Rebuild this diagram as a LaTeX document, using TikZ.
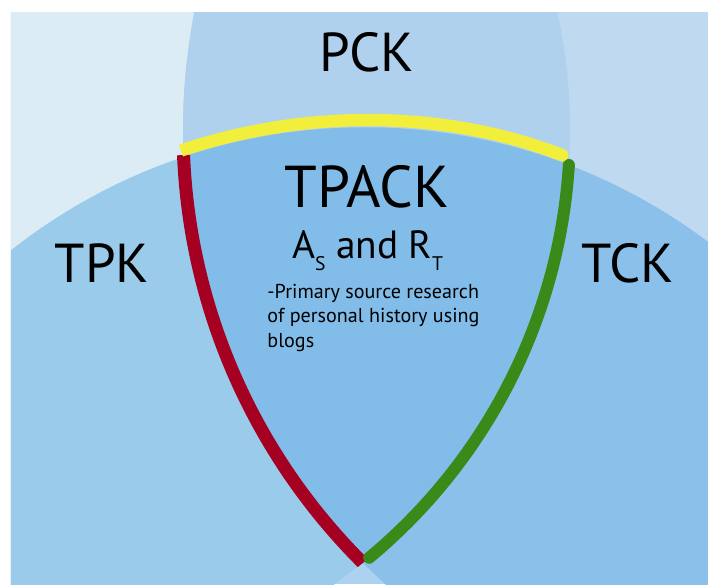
\documentclass[tikz,border=0pt]{standalone}
\usepackage{fontspec}
\setmainfont{PT Sans}
\usepackage{tikz}
\usetikzlibrary{calc,arrows.meta}

\definecolor{pOnly}{RGB}{220,236,245}
\definecolor{cOnly}{RGB}{191,217,240}
\definecolor{tOnly}{RGB}{172,210,240}
\definecolor{pckFill}{RGB}{175,209,238}
\definecolor{tpkFill}{RGB}{155,203,235}
\definecolor{tckFill}{RGB}{139,192,234}
\definecolor{tpackFill}{RGB}{130,188,232}
\definecolor{edgeRed}{RGB}{165,0,33}
\definecolor{edgeGreen}{RGB}{58,138,26}
\definecolor{edgeYellow}{RGB}{242,238,60}

\def\Pcircle{(0.35,11.35) circle (13.9)}
\def\Ccircle{(19.85,11.35) circle (15.275)}
\def\Tcircle{(9.125,-2.875) circle (14.2875)}
\def\ringarc[#1](#2)(#3:#4:#5){\draw[#1] ($(#2)+(#3:#5)$) arc (#3:#4:#5);}
\newcommand\fsz[2]{\fontsize{#1}{#2}\selectfont}

\tikzset{
  biglabel/.style={anchor=base, text=black, font=\fsz{39}{42}},
}

\begin{document}
\begin{tikzpicture}
			%%%%% START %%%%%
			\useasboundingbox (0,0) rectangle (17.7,14.6);
			
			% the three circles, cut to the frame
			\begin{scope}
				\clip (0.275,0) rectangle (17.7,14.28);
				\fill[tOnly] (0,0) rectangle (17.7,14.6);
				\fill[pOnly] \Pcircle;
				\fill[cOnly] \Ccircle;
				\begin{scope}
					\clip \Pcircle;
					\fill[pckFill] \Ccircle;
				\end{scope}
				\begin{scope}
					\clip \Tcircle;
					\fill[tpkFill] \Pcircle;
					\fill[tckFill] \Ccircle;
					\clip \Pcircle;
					\fill[tpackFill] \Ccircle;
				\end{scope}
			\end{scope}
			
			% borders of the centre
			\begin{scope}
				\clip \Pcircle;
				\ringarc[line width=3.25mm, color=edgeRed](19.85,11.35)(182.35:227:15.275)
			\end{scope}
			\ringarc[line width=3mm, color=edgeGreen, line cap=round](0.35,11.35)(-3.6:-50.3:13.9)
			\ringarc[line width=3.1mm, color=edgeYellow, -{Round Cap[]}](9.125,-2.875)(108.55:69.46:14.4625)
			
			\node[biglabel] (pck) at (9.175, 12.8) {PCK};
			\node[biglabel] (tpk) at (2.55, 7.525) {TPK};
			\node[biglabel] (tck) at (15.7, 7.525) {TCK};
			\node[biglabel, font=\fsz{42}{46}] (tpack) at (9.175, 9.4) {TPACK};
			\node[anchor=base, font=\fsz{28}{32}] (roles) at (9.19, 8.15)
				{A\raisebox{-0.32em}{\fsz{14}{15}S} and R\raisebox{-0.32em}{\fsz{14}{15}T}};
			\node[anchor=north west, align=left, inner sep=0pt, font=\fsz{14.3}{17.4}] (example) at (6.68, 7.5)
				{-Primary source research\\of personal history using\\blogs};
			
			%%%%% END %%%%%
		\end{tikzpicture}
\end{document}
